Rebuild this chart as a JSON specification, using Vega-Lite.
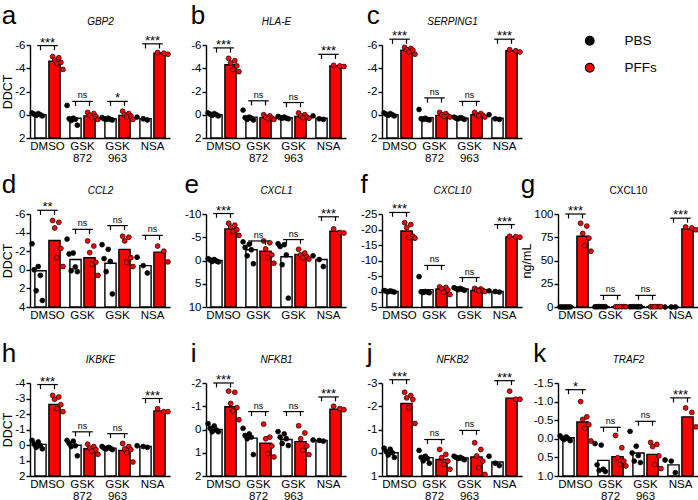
{
"$schema":"https://vega.github.io/schema/vega-lite/v6.json",
"padding":{"left":1,"top":3,"right":0,"bottom":0},
"datasets":{
"d":[
{"p":"a","g":"DMSO","c":"PBS","m":0,"v":[-0.15,-0.1,-0.05,0,0.05,0.1],"k":["P1","P4","P2","P5","P3","P6"]},
{"p":"a","g":"DMSO","c":"PFFs","m":-4.6,"v":[-5.0,-4.9,-4.7,-4.5,-4.4,-3.9],"k":["F1","F4","F2","F5","F3","F6"]},
{"p":"a","g":"GSK 872","c":"PBS","m":0.3,"v":[-0.8,0.3,0.35,0.4,0.5,0.9],"k":["P1","P4","P2","P5","P3","P6"]},
{"p":"a","g":"GSK 872","c":"PFFs","m":0.1,"v":[-0.2,-0.1,0.05,0.15,0.25,0.4],"k":["F1","F4","F2","F5","F3","F6"]},
{"p":"a","g":"GSK 963","c":"PBS","m":0.35,"v":[0.25,0.3,0.35,0.4,0.4,0.45],"k":["P1","P4","P2","P5","P3","P6"]},
{"p":"a","g":"GSK 963","c":"PFFs","m":0.05,"v":[-0.3,-0.1,0,0.1,0.2,0.4],"k":["F1","F4","F2","F5","F3","F6"]},
{"p":"a","g":"NSA","c":"PBS","m":0.35,"v":[0.2,0.35,0.45],"k":["P1","P4","P6"]},
{"p":"a","g":"NSA","c":"PFFs","m":-5.3,"v":[-5.35,-5.3,-5.2],"k":["F1","F4","F6"]},
{"p":"b","g":"DMSO","c":"PBS","m":0,"v":[-0.15,-0.1,-0.05,0,0.05,0.1],"k":["P1","P4","P2","P5","P3","P6"]},
{"p":"b","g":"DMSO","c":"PFFs","m":-4.3,"v":[-4.85,-4.65,-4.45,-4.2,-3.9,-3.7],"k":["F1","F4","F2","F5","F3","F6"]},
{"p":"b","g":"GSK 872","c":"PBS","m":0.2,"v":[-0.4,0.2,0.25,0.3,0.4,0.45],"k":["P1","P4","P2","P5","P3","P6"]},
{"p":"b","g":"GSK 872","c":"PFFs","m":0.25,"v":[0,0.1,0.2,0.3,0.35,0.4],"k":["F1","F4","F2","F5","F3","F6"]},
{"p":"b","g":"GSK 963","c":"PBS","m":0.25,"v":[0.15,0.2,0.25,0.3,0.3,0.35],"k":["P1","P4","P2","P5","P3","P6"]},
{"p":"b","g":"GSK 963","c":"PFFs","m":0.15,"v":[-0.15,0,0.1,0.2,0.25,0.3],"k":["F1","F4","F2","F5","F3","F6"]},
{"p":"b","g":"NSA","c":"PBS","m":0.3,"v":[0.1,0.35,0.4],"k":["P1","P4","P6"]},
{"p":"b","g":"NSA","c":"PFFs","m":-4.2,"v":[-4.25,-4.2,-4.15],"k":["F1","F4","F6"]},
{"p":"c","g":"DMSO","c":"PBS","m":0,"v":[-0.15,-0.1,-0.05,0,0.05,0.1],"k":["P1","P4","P2","P5","P3","P6"]},
{"p":"c","g":"DMSO","c":"PFFs","m":-5.55,"v":[-5.8,-5.7,-5.6,-5.55,-5.4,-5.2],"k":["F1","F4","F2","F5","F3","F6"]},
{"p":"c","g":"GSK 872","c":"PBS","m":0.25,"v":[-0.45,0.3,0.35,0.4,0.4,0.45],"k":["P1","P4","P2","P5","P3","P6"]},
{"p":"c","g":"GSK 872","c":"PFFs","m":0.05,"v":[-0.2,-0.1,0,0.1,0.15,0.2],"k":["F1","F4","F2","F5","F3","F6"]},
{"p":"c","g":"GSK 963","c":"PBS","m":0.3,"v":[0.2,0.25,0.3,0.3,0.35,0.4],"k":["P1","P4","P2","P5","P3","P6"]},
{"p":"c","g":"GSK 963","c":"PFFs","m":0,"v":[-0.2,-0.1,0,0.05,0.1,0.2],"k":["F1","F4","F2","F5","F3","F6"]},
{"p":"c","g":"NSA","c":"PBS","m":0.3,"v":[0,0.35,0.4],"k":["P1","P4","P6"]},
{"p":"c","g":"NSA","c":"PFFs","m":-5.5,"v":[-5.6,-5.5,-5.4],"k":["F1","F4","F6"]},
{"p":"d","g":"DMSO","c":"PBS","m":0.1,"v":[-2.8,-0.35,0,0.6,2.25,3.3],"k":["P1","P4","P2","P5","P3","P6"]},
{"p":"d","g":"DMSO","c":"PFFs","m":-3.15,"v":[-5.3,-5.1,-4.5,-2.3,-1.3,-0.35],"k":["F1","F4","F2","F5","F3","F6"]},
{"p":"d","g":"GSK 872","c":"PBS","m":-1.1,"v":[-3.3,-1.8,-1.7,-0.3,0.1,0.2],"k":["P1","P4","P2","P5","P3","P6"]},
{"p":"d","g":"GSK 872","c":"PFFs","m":-1.3,"v":[-3.1,-2.55,-1.85,-0.8,-0.6,0.6],"k":["F1","F4","F2","F5","F3","F6"]},
{"p":"d","g":"GSK 963","c":"PBS","m":-0.7,"v":[-2.7,-2.2,-1.2,-0.9,0.2,2.6],"k":["P1","P4","P2","P5","P3","P6"]},
{"p":"d","g":"GSK 963","c":"PFFs","m":-2.2,"v":[-3.6,-3.5,-3.1,-1.3,-0.8,-0.35],"k":["F1","F4","F2","F5","F3","F6"]},
{"p":"d","g":"NSA","c":"PBS","m":-0.45,"v":[-1.35,-0.45,0.35],"k":["P1","P4","P6"]},
{"p":"d","g":"NSA","c":"PFFs","m":-1.9,"v":[-2.55,-2.0,-0.85],"k":["F1","F4","F6"]},
{"p":"e","g":"DMSO","c":"PBS","m":0,"v":[-0.4,-0.2,-0.1,0.1,0.2,0.3],"k":["P1","P4","P2","P5","P3","P6"]},
{"p":"e","g":"DMSO","c":"PFFs","m":-6.8,"v":[-8.0,-7.6,-7.2,-6.6,-6.2,-5.4],"k":["F1","F4","F2","F5","F3","F6"]},
{"p":"e","g":"GSK 872","c":"PBS","m":-2.3,"v":[-4.0,-3.5,-2.8,-2.3,-1.0,0.7],"k":["P1","P4","P2","P5","P3","P6"]},
{"p":"e","g":"GSK 872","c":"PFFs","m":-2.0,"v":[-4.2,-3.8,-2.5,-1.2,-0.6,0.6],"k":["F1","F4","F2","F5","F3","F6"]},
{"p":"e","g":"GSK 963","c":"PBS","m":-0.8,"v":[-3.6,-3.4,-3.0,-1.2,0.9,8.1],"k":["P1","P4","P2","P5","P3","P6"]},
{"p":"e","g":"GSK 963","c":"PFFs","m":-1.3,"v":[-2.4,-1.6,-1.2,-0.8,-0.6,-0.3],"k":["F1","F4","F2","F5","F3","F6"]},
{"p":"e","g":"NSA","c":"PBS","m":-0.2,"v":[-1.0,-0.2,1.3],"k":["P1","P4","P6"]},
{"p":"e","g":"NSA","c":"PFFs","m":-6.3,"v":[-6.8,-6.0,-5.9],"k":["F1","F4","F6"]},
{"p":"f","g":"DMSO","c":"PBS","m":0,"v":[-0.3,-0.2,-0.1,0,0.1,0.2],"k":["P1","P4","P2","P5","P3","P6"]},
{"p":"f","g":"DMSO","c":"PFFs","m":-19.5,"v":[-22.2,-21.6,-20.6,-17.8,-17.4,-17.2],"k":["F1","F4","F2","F5","F3","F6"]},
{"p":"f","g":"GSK 872","c":"PBS","m":-0.6,"v":[-4.8,0,0.1,0.2,0.3,0.4],"k":["P1","P4","P2","P5","P3","P6"]},
{"p":"f","g":"GSK 872","c":"PFFs","m":-0.8,"v":[-1.5,-1.3,-0.9,-0.5,0.3,1.0],"k":["F1","F4","F2","F5","F3","F6"]},
{"p":"f","g":"GSK 963","c":"PBS","m":-0.8,"v":[-1.2,-1.0,-0.9,-0.7,-0.6,-0.4],"k":["P1","P4","P2","P5","P3","P6"]},
{"p":"f","g":"GSK 963","c":"PFFs","m":-0.3,"v":[-1.0,-0.8,-0.5,-0.3,-0.2,0],"k":["F1","F4","F2","F5","F3","F6"]},
{"p":"f","g":"NSA","c":"PBS","m":0,"v":[-0.2,0,0.2],"k":["P1","P4","P6"]},
{"p":"f","g":"NSA","c":"PFFs","m":-17.6,"v":[-17.8,-17.7,-17.5],"k":["F1","F4","F6"]},
{"p":"g","g":"DMSO","c":"PBS","m":0,"v":[0,0,0,0,0,0],"k":["P1","P4","P2","P5","P3","P6"]},
{"p":"g","g":"DMSO","c":"PFFs","m":76,"v":[90,87,79,74,66,60],"k":["F1","F4","F2","F5","F3","F6"]},
{"p":"g","g":"GSK 872","c":"PBS","m":0.3,"v":[0.2,0.3,0.3,0.3,0.4,0.3],"k":["P1","P4","P2","P5","P3","P6"]},
{"p":"g","g":"GSK 872","c":"PFFs","m":0.3,"v":[0.2,0.3,0.3,0.4,0.4,0.3],"k":["F1","F4","F2","F5","F3","F6"]},
{"p":"g","g":"GSK 963","c":"PBS","m":0.3,"v":[0.2,0.3,0.3,0.3,0.4,0.3],"k":["P1","P4","P2","P5","P3","P6"]},
{"p":"g","g":"GSK 963","c":"PFFs","m":0.3,"v":[0.2,0.3,0.3,0.4,0.4,0.3],"k":["F1","F4","F2","F5","F3","F6"]},
{"p":"g","g":"NSA","c":"PBS","m":0,"v":[0,0,0],"k":["P1","P4","P6"]},
{"p":"g","g":"NSA","c":"PFFs","m":84,"v":[86,85,83],"k":["F1","F4","F6"]},
{"p":"h","g":"DMSO","c":"PBS","m":-0.04,"v":[-0.3,-0.2,-0.05,0.05,0.15,0.25],"k":["P1","P4","P2","P5","P3","P6"]},
{"p":"h","g":"DMSO","c":"PFFs","m":-2.62,"v":[-3.2,-3.1,-2.95,-2.6,-2.35,-2.15],"k":["F1","F4","F2","F5","F3","F6"]},
{"p":"h","g":"GSK 872","c":"PBS","m":0.02,"v":[-0.3,-0.25,-0.1,0.05,0.1,0.7],"k":["P1","P4","P2","P5","P3","P6"]},
{"p":"h","g":"GSK 872","c":"PFFs","m":0.24,"v":[-0.05,0.1,0.2,0.3,0.4,0.6],"k":["F1","F4","F2","F5","F3","F6"]},
{"p":"h","g":"GSK 963","c":"PBS","m":0.2,"v":[0.1,0.15,0.2,0.2,0.25,0.3],"k":["P1","P4","P2","P5","P3","P6"]},
{"p":"h","g":"GSK 963","c":"PFFs","m":0.35,"v":[-0.1,0.1,0.25,0.3,0.5,1.1],"k":["F1","F4","F2","F5","F3","F6"]},
{"p":"h","g":"NSA","c":"PBS","m":0.1,"v":[0.05,0.1,0.15],"k":["P1","P4","P6"]},
{"p":"h","g":"NSA","c":"PFFs","m":-2.2,"v":[-2.35,-2.15,-2.15],"k":["F1","F4","F6"]},
{"p":"i","g":"DMSO","c":"PBS","m":0,"v":[-0.25,-0.15,-0.05,0.02,0.1,0.1],"k":["P1","P4","P2","P5","P3","P6"]},
{"p":"i","g":"DMSO","c":"PFFs","m":-0.98,"v":[-1.65,-1.6,-1.12,-0.94,-0.8,-0.42],"k":["F1","F4","F2","F5","F3","F6"]},
{"p":"i","g":"GSK 872","c":"PBS","m":0.37,"v":[-0.05,0.19,0.26,0.33,0.4,1.08],"k":["P1","P4","P2","P5","P3","P6"]},
{"p":"i","g":"GSK 872","c":"PFFs","m":0.59,"v":[-0.23,0.33,0.4,0.71,1.04,1.18],"k":["F1","F4","F2","F5","F3","F6"]},
{"p":"i","g":"GSK 963","c":"PBS","m":0.43,"v":[0.09,0.19,0.33,0.4,0.6,0.69],"k":["P1","P4","P2","P5","P3","P6"]},
{"p":"i","g":"GSK 963","c":"PFFs","m":0.52,"v":[-0.16,0.15,0.4,0.71,0.9,1.08],"k":["F1","F4","F2","F5","F3","F6"]},
{"p":"i","g":"NSA","c":"PBS","m":0.47,"v":[0.45,0.47,0.5],"k":["P1","P4","P6"]},
{"p":"i","g":"NSA","c":"PFFs","m":-0.87,"v":[-1.0,-0.9,-0.85],"k":["F1","F4","F6"]},
{"p":"j","g":"DMSO","c":"PBS","m":0,"v":[-0.2,-0.15,-0.05,0,0.1,0.2],"k":["P1","P4","P2","P5","P3","P6"]},
{"p":"j","g":"DMSO","c":"PFFs","m":-2.12,"v":[-2.6,-2.46,-2.36,-2.29,-1.93,-1.26],"k":["F1","F4","F2","F5","F3","F6"]},
{"p":"j","g":"GSK 872","c":"PBS","m":0.21,"v":[-0.1,0.15,0.2,0.25,0.35,0.45],"k":["P1","P4","P2","P5","P3","P6"]},
{"p":"j","g":"GSK 872","c":"PFFs","m":0.29,"v":[-0.14,0.07,0.21,0.36,0.5,0.71],"k":["F1","F4","F2","F5","F3","F6"]},
{"p":"j","g":"GSK 963","c":"PBS","m":0.22,"v":[0.15,0.2,0.2,0.25,0.25,0.3],"k":["P1","P4","P2","P5","P3","P6"]},
{"p":"j","g":"GSK 963","c":"PFFs","m":0.18,"v":[-0.43,-0.14,0.14,0.36,0.64,0.93],"k":["F1","F4","F2","F5","F3","F6"]},
{"p":"j","g":"NSA","c":"PBS","m":0.4,"v":[0.15,0.45,0.55],"k":["P1","P4","P6"]},
{"p":"j","g":"NSA","c":"PFFs","m":-2.35,"v":[-2.65,-2.3,-2.3],"k":["F1","F4","F6"]},
{"p":"k","g":"DMSO","c":"PBS","m":-0.03,"v":[-0.08,-0.05,-0.02,0,0.02,0.05],"k":["P1","P4","P2","P5","P3","P6"]},
{"p":"k","g":"DMSO","c":"PFFs","m":-0.45,"v":[-1.0,-0.59,-0.52,-0.38,-0.28,0.06],"k":["F1","F4","F2","F5","F3","F6"]},
{"p":"k","g":"GSK 872","c":"PBS","m":0.58,"v":[0.13,0.17,0.7,0.82,0.85,0.88],"k":["P1","P4","P2","P5","P3","P6"]},
{"p":"k","g":"GSK 872","c":"PFFs","m":0.48,"v":[-0.09,0.24,0.51,0.6,0.69,0.73],"k":["F1","F4","F2","F5","F3","F6"]},
{"p":"k","g":"GSK 963","c":"PBS","m":0.38,"v":[-0.2,0.2,0.38,0.45,0.6,0.64],"k":["P1","P4","P2","P5","P3","P6"]},
{"p":"k","g":"GSK 963","c":"PFFs","m":0.42,"v":[0.1,0.15,0.21,0.46,0.69,0.8],"k":["F1","F4","F2","F5","F3","F6"]},
{"p":"k","g":"NSA","c":"PBS","m":0.7,"v":[0.57,0.6,0.91],"k":["P1","P4","P6"]},
{"p":"k","g":"NSA","c":"PFFs","m":-0.59,"v":[-0.83,-0.71,-0.32],"k":["F1","F4","F6"]}
],
"b":[
{"p":"a","g":"DMSO","t":-5.95,"b":-5.55,"s":"***","c":["PBS","PFFs"]},
{"p":"a","g":"GSK 872","t":-1.15,"b":-0.75,"s":"ns","c":["PBS","PFFs"]},
{"p":"a","g":"GSK 963","t":-1.15,"b":-0.75,"s":"*","c":["PBS","PFFs"]},
{"p":"a","g":"NSA","t":-6.1,"b":-5.7,"s":"***","c":["PBS","PFFs"]},
{"p":"b","g":"DMSO","t":-5.75,"b":-5.35,"s":"***","c":["PBS","PFFs"]},
{"p":"b","g":"GSK 872","t":-1.2,"b":-0.8,"s":"ns","c":["PBS","PFFs"]},
{"p":"b","g":"GSK 963","t":-1.05,"b":-0.65,"s":"ns","c":["PBS","PFFs"]},
{"p":"b","g":"NSA","t":-5.2,"b":-4.8,"s":"***","c":["PBS","PFFs"]},
{"p":"c","g":"DMSO","t":-6.5,"b":-6.1,"s":"***","c":["PBS","PFFs"]},
{"p":"c","g":"GSK 872","t":-1.45,"b":-1.05,"s":"ns","c":["PBS","PFFs"]},
{"p":"c","g":"GSK 963","t":-1.15,"b":-0.75,"s":"ns","c":["PBS","PFFs"]},
{"p":"c","g":"NSA","t":-6.5,"b":-6.1,"s":"***","c":["PBS","PFFs"]},
{"p":"d","g":"DMSO","t":-6.4,"b":-5.9,"s":"**","c":["PBS","PFFs"]},
{"p":"d","g":"GSK 872","t":-4.35,"b":-3.85,"s":"ns","c":["PBS","PFFs"]},
{"p":"d","g":"GSK 963","t":-4.75,"b":-4.25,"s":"ns","c":["PBS","PFFs"]},
{"p":"d","g":"NSA","t":-3.7,"b":-3.2,"s":"ns","c":["PBS","PFFs"]},
{"p":"e","g":"DMSO","t":-10.1,"b":-9.2,"s":"***","c":["PBS","PFFs"]},
{"p":"e","g":"GSK 872","t":-4.2,"b":-3.3,"s":"ns","c":["PBS","PFFs"]},
{"p":"e","g":"GSK 963","t":-4.5,"b":-3.6,"s":"ns","c":["PBS","PFFs"]},
{"p":"e","g":"NSA","t":-9.4,"b":-8.5,"s":"***","c":["PBS","PFFs"]},
{"p":"f","g":"DMSO","t":-25.5,"b":-24.1,"s":"***","c":["PBS","PFFs"]},
{"p":"f","g":"GSK 872","t":-8.4,"b":-7.0,"s":"ns","c":["PBS","PFFs"]},
{"p":"f","g":"GSK 963","t":-4.5,"b":-3.1,"s":"ns","c":["PBS","PFFs"]},
{"p":"f","g":"NSA","t":-21.6,"b":-20.2,"s":"***","c":["PBS","PFFs"]},
{"p":"g","g":"DMSO","t":100,"b":95.2,"s":"***","c":["PBS","PFFs"]},
{"p":"g","g":"GSK 872","t":12.5,"b":7.7,"s":"ns","c":["PBS","PFFs"]},
{"p":"g","g":"GSK 963","t":12.5,"b":7.7,"s":"ns","c":["PBS","PFFs"]},
{"p":"g","g":"NSA","t":95.5,"b":90.7,"s":"***","c":["PBS","PFFs"]},
{"p":"h","g":"DMSO","t":-3.9,"b":-3.6,"s":"***","c":["PBS","PFFs"]},
{"p":"h","g":"GSK 872","t":-0.85,"b":-0.56,"s":"ns","c":["PBS","PFFs"]},
{"p":"h","g":"GSK 963","t":-0.73,"b":-0.44,"s":"ns","c":["PBS","PFFs"]},
{"p":"h","g":"NSA","t":-3.0,"b":-2.7,"s":"***","c":["PBS","PFFs"]},
{"p":"i","g":"DMSO","t":-2.0,"b":-1.81,"s":"***","c":["PBS","PFFs"]},
{"p":"i","g":"GSK 872","t":-0.77,"b":-0.58,"s":"ns","c":["PBS","PFFs"]},
{"p":"i","g":"GSK 963","t":-0.77,"b":-0.58,"s":"ns","c":["PBS","PFFs"]},
{"p":"i","g":"NSA","t":-1.4,"b":-1.21,"s":"***","c":["PBS","PFFs"]},
{"p":"j","g":"DMSO","t":-3.14,"b":-2.95,"s":"***","c":["PBS","PFFs"]},
{"p":"j","g":"GSK 872","t":-0.57,"b":-0.38,"s":"ns","c":["PBS","PFFs"]},
{"p":"j","g":"GSK 963","t":-0.96,"b":-0.77,"s":"ns","c":["PBS","PFFs"]},
{"p":"j","g":"NSA","t":-3.1,"b":-2.91,"s":"***","c":["PBS","PFFs"]},
{"p":"k","g":"DMSO","t":-1.32,"b":-1.2,"s":"*","c":["PBS","PFFs"]},
{"p":"k","g":"GSK 872","t":-0.31,"b":-0.19,"s":"ns","c":["PBS","PFFs"]},
{"p":"k","g":"GSK 963","t":-0.47,"b":-0.35,"s":"ns","c":["PBS","PFFs"]},
{"p":"k","g":"NSA","t":-1.1,"b":-0.98,"s":"***","c":["PBS","PFFs"]}
]
},
"columns":4,
"bounds":"flush",
"spacing":{"row":76,"column":36},
"resolve":{"scale":{"fill":"independent","color":"independent","xOffset":"independent"}},
"concat":[
{"width":140,"height":93,"title":"a",
"layer":[
{"data":{"name":"d"},"transform":[{"filter":"datum.p=='a'"}],"mark":{"type":"bar","stroke":"black","strokeWidth":1.4},
"encoding":{"x":{"field":"g","type":"nominal","scale":{"domain":["DMSO","GSK 872","GSK 963","NSA"],"paddingInner":0,"paddingOuter":0},"axis":{"title":null,"labelExpr":"split(datum.value,' ')"}},
"xOffset":{"field":"c","type":"nominal","scale":{"domain":["PBS","PFFs"],"paddingInner":0.2,"paddingOuter":0.35}},
"y":{"field":"m","type":"quantitative","scale":{"domain":[-6,2],"reverse":true,"nice":false,"zero":false},"axis":{"title":"DDCT","values":[-6,-4,-2,0,2],"format":"d","tickCount":20,"labelExpr":"replace(datum.label,'\u2212','-')"}},
"y2":{"datum":2},
"color":{"field":"c","type":"nominal","scale":{"domain":["PBS","PFFs"],"range":["white","#ff0000"]},"legend":null}}},
{"mark":{"type":"rule","color":"black","strokeWidth":1.6},"encoding":{"y":{"datum":2,"type":"quantitative"}}},
{"mark":{"type":"rule","color":"black","strokeWidth":1.6},"encoding":{"x":{"datum":"DMSO","type":"nominal","bandPosition":0,"axis":null}}},
{"data":{"name":"d"},"transform":[{"filter":"datum.p=='a'"},{"flatten":["v","k"]}],"mark":{"type":"circle","size":24,"stroke":"black","strokeWidth":0.7,"opacity":1},
"encoding":{"x":{"field":"g","type":"nominal","axis":null},"xOffset":{"field":"k","type":"nominal","scale":{"type":"point","domain":["P1","P2","P3","P4","P5","P6","q1","q2","q3","q4","F1","F2","F3","F4","F5","F6"],"padding":5}},
"y":{"field":"v","type":"quantitative"},
"fill":{"field":"c","type":"nominal","scale":{"domain":["PBS","PFFs"],"range":["black","#ff0000"]},"legend":null}}},
{"data":{"name":"b"},"transform":[{"filter":"datum.p=='a'"},{"flatten":["c"]}],"mark":{"type":"line","color":"black","strokeWidth":1.2},
"encoding":{"x":{"field":"g","type":"nominal","axis":{"orient":"top","title":"GBP2"}},
"xOffset":{"field":"c","type":"nominal","scale":{"domain":["PBS","PFFs"],"paddingInner":0.2,"paddingOuter":0.35}},
"y":{"field":"t","type":"quantitative"},"detail":{"field":"g"}}},
{"data":{"name":"b"},"transform":[{"filter":"datum.p=='a'"},{"flatten":["c"]}],"mark":{"type":"rule","color":"black","strokeWidth":1.2},
"encoding":{"x":{"field":"g","type":"nominal","axis":null},"xOffset":{"field":"c","type":"nominal","scale":{"domain":["PBS","PFFs"],"paddingInner":0.2,"paddingOuter":0.35}},"y":{"field":"t","type":"quantitative"},"y2":{"field":"b"}}},
{"data":{"name":"b"},"transform":[{"filter":"datum.p=='a' && datum.s!='ns'"}],"mark":{"type":"text","fontSize":13,"dy":1,"baseline":"alphabetic"},
"encoding":{"x":{"field":"g","type":"nominal","axis":null},"y":{"field":"t","type":"quantitative"},"text":{"field":"s"}}},
{"data":{"name":"b"},"transform":[{"filter":"datum.p=='a' && datum.s=='ns'"}],"mark":{"type":"text","fontSize":9,"dy":-3,"baseline":"alphabetic"},
"encoding":{"x":{"field":"g","type":"nominal","axis":null},"y":{"field":"t","type":"quantitative"},"text":{"field":"s"}}}
],
"resolve":{"scale":{"xOffset":"independent"},"axis":{"x":"independent"}}},

{"width":140,"height":93,"title":"b",
"layer":[
{"data":{"name":"d"},"transform":[{"filter":"datum.p=='b'"}],"mark":{"type":"bar","stroke":"black","strokeWidth":1.4},
"encoding":{"x":{"field":"g","type":"nominal","scale":{"domain":["DMSO","GSK 872","GSK 963","NSA"],"paddingInner":0,"paddingOuter":0},"axis":{"title":null,"labelExpr":"split(datum.value,' ')"}},
"xOffset":{"field":"c","type":"nominal","scale":{"domain":["PBS","PFFs"],"paddingInner":0.2,"paddingOuter":0.35}},
"y":{"field":"m","type":"quantitative","scale":{"domain":[-6,2],"reverse":true,"nice":false,"zero":false},"axis":{"title":null,"values":[-6,-4,-2,0,2],"format":"d","tickCount":20,"labelExpr":"replace(datum.label,'\u2212','-')"}},
"y2":{"datum":2},
"color":{"field":"c","type":"nominal","scale":{"domain":["PBS","PFFs"],"range":["white","#ff0000"]},"legend":null}}},
{"mark":{"type":"rule","color":"black","strokeWidth":1.6},"encoding":{"y":{"datum":2,"type":"quantitative"}}},
{"mark":{"type":"rule","color":"black","strokeWidth":1.6},"encoding":{"x":{"datum":"DMSO","type":"nominal","bandPosition":0,"axis":null}}},
{"data":{"name":"d"},"transform":[{"filter":"datum.p=='b'"},{"flatten":["v","k"]}],"mark":{"type":"circle","size":24,"stroke":"black","strokeWidth":0.7,"opacity":1},
"encoding":{"x":{"field":"g","type":"nominal","axis":null},"xOffset":{"field":"k","type":"nominal","scale":{"type":"point","domain":["P1","P2","P3","P4","P5","P6","q1","q2","q3","q4","F1","F2","F3","F4","F5","F6"],"padding":5}},
"y":{"field":"v","type":"quantitative"},
"fill":{"field":"c","type":"nominal","scale":{"domain":["PBS","PFFs"],"range":["black","#ff0000"]},"legend":null}}},
{"data":{"name":"b"},"transform":[{"filter":"datum.p=='b'"},{"flatten":["c"]}],"mark":{"type":"line","color":"black","strokeWidth":1.2},
"encoding":{"x":{"field":"g","type":"nominal","axis":{"orient":"top","title":"HLA-E"}},
"xOffset":{"field":"c","type":"nominal","scale":{"domain":["PBS","PFFs"],"paddingInner":0.2,"paddingOuter":0.35}},
"y":{"field":"t","type":"quantitative"},"detail":{"field":"g"}}},
{"data":{"name":"b"},"transform":[{"filter":"datum.p=='b'"},{"flatten":["c"]}],"mark":{"type":"rule","color":"black","strokeWidth":1.2},
"encoding":{"x":{"field":"g","type":"nominal","axis":null},"xOffset":{"field":"c","type":"nominal","scale":{"domain":["PBS","PFFs"],"paddingInner":0.2,"paddingOuter":0.35}},"y":{"field":"t","type":"quantitative"},"y2":{"field":"b"}}},
{"data":{"name":"b"},"transform":[{"filter":"datum.p=='b' && datum.s!='ns'"}],"mark":{"type":"text","fontSize":13,"dy":1,"baseline":"alphabetic"},
"encoding":{"x":{"field":"g","type":"nominal","axis":null},"y":{"field":"t","type":"quantitative"},"text":{"field":"s"}}},
{"data":{"name":"b"},"transform":[{"filter":"datum.p=='b' && datum.s=='ns'"}],"mark":{"type":"text","fontSize":9,"dy":-3,"baseline":"alphabetic"},
"encoding":{"x":{"field":"g","type":"nominal","axis":null},"y":{"field":"t","type":"quantitative"},"text":{"field":"s"}}}
],
"resolve":{"scale":{"xOffset":"independent"},"axis":{"x":"independent"}}},

{"width":140,"height":93,"title":"c",
"layer":[
{"data":{"name":"d"},"transform":[{"filter":"datum.p=='c'"}],"mark":{"type":"bar","stroke":"black","strokeWidth":1.4},
"encoding":{"x":{"field":"g","type":"nominal","scale":{"domain":["DMSO","GSK 872","GSK 963","NSA"],"paddingInner":0,"paddingOuter":0},"axis":{"title":null,"labelExpr":"split(datum.value,' ')"}},
"xOffset":{"field":"c","type":"nominal","scale":{"domain":["PBS","PFFs"],"paddingInner":0.2,"paddingOuter":0.35}},
"y":{"field":"m","type":"quantitative","scale":{"domain":[-6,2],"reverse":true,"nice":false,"zero":false},"axis":{"title":null,"values":[-6,-4,-2,0,2],"format":"d","tickCount":20,"labelExpr":"replace(datum.label,'\u2212','-')"}},
"y2":{"datum":2},
"color":{"field":"c","type":"nominal","scale":{"domain":["PBS","PFFs"],"range":["white","#ff0000"]},"legend":null}}},
{"mark":{"type":"rule","color":"black","strokeWidth":1.6},"encoding":{"y":{"datum":2,"type":"quantitative"}}},
{"mark":{"type":"rule","color":"black","strokeWidth":1.6},"encoding":{"x":{"datum":"DMSO","type":"nominal","bandPosition":0,"axis":null}}},
{"data":{"name":"d"},"transform":[{"filter":"datum.p=='c'"},{"flatten":["v","k"]}],"mark":{"type":"circle","size":24,"stroke":"black","strokeWidth":0.7,"opacity":1},
"encoding":{"x":{"field":"g","type":"nominal","axis":null},"xOffset":{"field":"k","type":"nominal","scale":{"type":"point","domain":["P1","P2","P3","P4","P5","P6","q1","q2","q3","q4","F1","F2","F3","F4","F5","F6"],"padding":5}},
"y":{"field":"v","type":"quantitative"},
"fill":{"field":"c","type":"nominal","scale":{"domain":["PBS","PFFs"],"range":["black","#ff0000"]},"legend":null}}},
{"data":{"name":"b"},"transform":[{"filter":"datum.p=='c'"},{"flatten":["c"]}],"mark":{"type":"line","color":"black","strokeWidth":1.2},
"encoding":{"x":{"field":"g","type":"nominal","axis":{"orient":"top","title":"SERPING1"}},
"xOffset":{"field":"c","type":"nominal","scale":{"domain":["PBS","PFFs"],"paddingInner":0.2,"paddingOuter":0.35}},
"y":{"field":"t","type":"quantitative"},"detail":{"field":"g"}}},
{"data":{"name":"b"},"transform":[{"filter":"datum.p=='c'"},{"flatten":["c"]}],"mark":{"type":"rule","color":"black","strokeWidth":1.2},
"encoding":{"x":{"field":"g","type":"nominal","axis":null},"xOffset":{"field":"c","type":"nominal","scale":{"domain":["PBS","PFFs"],"paddingInner":0.2,"paddingOuter":0.35}},"y":{"field":"t","type":"quantitative"},"y2":{"field":"b"}}},
{"data":{"name":"b"},"transform":[{"filter":"datum.p=='c' && datum.s!='ns'"}],"mark":{"type":"text","fontSize":13,"dy":1,"baseline":"alphabetic"},
"encoding":{"x":{"field":"g","type":"nominal","axis":null},"y":{"field":"t","type":"quantitative"},"text":{"field":"s"}}},
{"data":{"name":"b"},"transform":[{"filter":"datum.p=='c' && datum.s=='ns'"}],"mark":{"type":"text","fontSize":9,"dy":-3,"baseline":"alphabetic"},
"encoding":{"x":{"field":"g","type":"nominal","axis":null},"y":{"field":"t","type":"quantitative"},"text":{"field":"s"}}}
],
"resolve":{"scale":{"xOffset":"independent"},"axis":{"x":"independent"}}},

{"width":140,"height":93,"data":{"values":[]},"mark":{"type":"circle","stroke":"black","strokeWidth":1.2,"opacity":1},
"encoding":{"fill":{"field":"c","type":"nominal","scale":{"domain":["PBS","PFFs"],"range":["black","#ff0000"]},
"legend":{"title":null,"orient":"none","legendX":25,"legendY":-11,"labelFontSize":13.5,"symbolSize":75,"symbolStrokeColor":"black","symbolStrokeWidth":1.2,"rowPadding":12,"labelOffset":28,"symbolType":"circle","labelColor":"black","symbolOpacity":1}}}},

{"width":140,"height":93,"title":"d",
"layer":[
{"data":{"name":"d"},"transform":[{"filter":"datum.p=='d'"}],"mark":{"type":"bar","stroke":"black","strokeWidth":1.4},
"encoding":{"x":{"field":"g","type":"nominal","scale":{"domain":["DMSO","GSK 872","GSK 963","NSA"],"paddingInner":0,"paddingOuter":0},"axis":{"title":null,"labelExpr":"split(datum.value,' ')[0]"}},
"xOffset":{"field":"c","type":"nominal","scale":{"domain":["PBS","PFFs"],"paddingInner":0.2,"paddingOuter":0.35}},
"y":{"field":"m","type":"quantitative","scale":{"domain":[-6,4],"reverse":true,"nice":false,"zero":false},"axis":{"title":"DDCT","values":[-6,-4,-2,0,2,4],"format":"d","tickCount":20,"labelExpr":"replace(datum.label,'\u2212','-')"}},
"y2":{"datum":4},
"color":{"field":"c","type":"nominal","scale":{"domain":["PBS","PFFs"],"range":["white","#ff0000"]},"legend":null}}},
{"mark":{"type":"rule","color":"black","strokeWidth":1.6},"encoding":{"y":{"datum":4,"type":"quantitative"}}},
{"mark":{"type":"rule","color":"black","strokeWidth":1.6},"encoding":{"x":{"datum":"DMSO","type":"nominal","bandPosition":0,"axis":null}}},
{"data":{"name":"d"},"transform":[{"filter":"datum.p=='d'"},{"flatten":["v","k"]}],"mark":{"type":"circle","size":24,"stroke":"black","strokeWidth":0.7,"opacity":1},
"encoding":{"x":{"field":"g","type":"nominal","axis":null},"xOffset":{"field":"k","type":"nominal","scale":{"type":"point","domain":["P1","P2","P3","P4","P5","P6","q1","q2","q3","q4","F1","F2","F3","F4","F5","F6"],"padding":5}},
"y":{"field":"v","type":"quantitative"},
"fill":{"field":"c","type":"nominal","scale":{"domain":["PBS","PFFs"],"range":["black","#ff0000"]},"legend":null}}},
{"data":{"name":"b"},"transform":[{"filter":"datum.p=='d'"},{"flatten":["c"]}],"mark":{"type":"line","color":"black","strokeWidth":1.2},
"encoding":{"x":{"field":"g","type":"nominal","axis":{"orient":"top","title":"CCL2"}},
"xOffset":{"field":"c","type":"nominal","scale":{"domain":["PBS","PFFs"],"paddingInner":0.2,"paddingOuter":0.35}},
"y":{"field":"t","type":"quantitative"},"detail":{"field":"g"}}},
{"data":{"name":"b"},"transform":[{"filter":"datum.p=='d'"},{"flatten":["c"]}],"mark":{"type":"rule","color":"black","strokeWidth":1.2},
"encoding":{"x":{"field":"g","type":"nominal","axis":null},"xOffset":{"field":"c","type":"nominal","scale":{"domain":["PBS","PFFs"],"paddingInner":0.2,"paddingOuter":0.35}},"y":{"field":"t","type":"quantitative"},"y2":{"field":"b"}}},
{"data":{"name":"b"},"transform":[{"filter":"datum.p=='d' && datum.s!='ns'"}],"mark":{"type":"text","fontSize":13,"dy":1,"baseline":"alphabetic"},
"encoding":{"x":{"field":"g","type":"nominal","axis":null},"y":{"field":"t","type":"quantitative"},"text":{"field":"s"}}},
{"data":{"name":"b"},"transform":[{"filter":"datum.p=='d' && datum.s=='ns'"}],"mark":{"type":"text","fontSize":9,"dy":-3,"baseline":"alphabetic"},
"encoding":{"x":{"field":"g","type":"nominal","axis":null},"y":{"field":"t","type":"quantitative"},"text":{"field":"s"}}}
],
"resolve":{"scale":{"xOffset":"independent"},"axis":{"x":"independent"}}},

{"width":140,"height":93,"title":"e",
"layer":[
{"data":{"name":"d"},"transform":[{"filter":"datum.p=='e'"}],"mark":{"type":"bar","stroke":"black","strokeWidth":1.4},
"encoding":{"x":{"field":"g","type":"nominal","scale":{"domain":["DMSO","GSK 872","GSK 963","NSA"],"paddingInner":0,"paddingOuter":0},"axis":{"title":null,"labelExpr":"split(datum.value,' ')[0]"}},
"xOffset":{"field":"c","type":"nominal","scale":{"domain":["PBS","PFFs"],"paddingInner":0.2,"paddingOuter":0.35}},
"y":{"field":"m","type":"quantitative","scale":{"domain":[-10,10],"reverse":true,"nice":false,"zero":false},"axis":{"title":null,"values":[-10,-5,0,5,10],"format":"d","tickCount":20,"labelExpr":"replace(datum.label,'\u2212','-')"}},
"y2":{"datum":10},
"color":{"field":"c","type":"nominal","scale":{"domain":["PBS","PFFs"],"range":["white","#ff0000"]},"legend":null}}},
{"mark":{"type":"rule","color":"black","strokeWidth":1.6},"encoding":{"y":{"datum":10,"type":"quantitative"}}},
{"mark":{"type":"rule","color":"black","strokeWidth":1.6},"encoding":{"x":{"datum":"DMSO","type":"nominal","bandPosition":0,"axis":null}}},
{"data":{"name":"d"},"transform":[{"filter":"datum.p=='e'"},{"flatten":["v","k"]}],"mark":{"type":"circle","size":24,"stroke":"black","strokeWidth":0.7,"opacity":1},
"encoding":{"x":{"field":"g","type":"nominal","axis":null},"xOffset":{"field":"k","type":"nominal","scale":{"type":"point","domain":["P1","P2","P3","P4","P5","P6","q1","q2","q3","q4","F1","F2","F3","F4","F5","F6"],"padding":5}},
"y":{"field":"v","type":"quantitative"},
"fill":{"field":"c","type":"nominal","scale":{"domain":["PBS","PFFs"],"range":["black","#ff0000"]},"legend":null}}},
{"data":{"name":"b"},"transform":[{"filter":"datum.p=='e'"},{"flatten":["c"]}],"mark":{"type":"line","color":"black","strokeWidth":1.2},
"encoding":{"x":{"field":"g","type":"nominal","axis":{"orient":"top","title":"CXCL1"}},
"xOffset":{"field":"c","type":"nominal","scale":{"domain":["PBS","PFFs"],"paddingInner":0.2,"paddingOuter":0.35}},
"y":{"field":"t","type":"quantitative"},"detail":{"field":"g"}}},
{"data":{"name":"b"},"transform":[{"filter":"datum.p=='e'"},{"flatten":["c"]}],"mark":{"type":"rule","color":"black","strokeWidth":1.2},
"encoding":{"x":{"field":"g","type":"nominal","axis":null},"xOffset":{"field":"c","type":"nominal","scale":{"domain":["PBS","PFFs"],"paddingInner":0.2,"paddingOuter":0.35}},"y":{"field":"t","type":"quantitative"},"y2":{"field":"b"}}},
{"data":{"name":"b"},"transform":[{"filter":"datum.p=='e' && datum.s!='ns'"}],"mark":{"type":"text","fontSize":13,"dy":1,"baseline":"alphabetic"},
"encoding":{"x":{"field":"g","type":"nominal","axis":null},"y":{"field":"t","type":"quantitative"},"text":{"field":"s"}}},
{"data":{"name":"b"},"transform":[{"filter":"datum.p=='e' && datum.s=='ns'"}],"mark":{"type":"text","fontSize":9,"dy":-3,"baseline":"alphabetic"},
"encoding":{"x":{"field":"g","type":"nominal","axis":null},"y":{"field":"t","type":"quantitative"},"text":{"field":"s"}}}
],
"resolve":{"scale":{"xOffset":"independent"},"axis":{"x":"independent"}}},

{"width":140,"height":93,"title":"f",
"layer":[
{"data":{"name":"d"},"transform":[{"filter":"datum.p=='f'"}],"mark":{"type":"bar","stroke":"black","strokeWidth":1.4},
"encoding":{"x":{"field":"g","type":"nominal","scale":{"domain":["DMSO","GSK 872","GSK 963","NSA"],"paddingInner":0,"paddingOuter":0},"axis":{"title":null,"labelExpr":"split(datum.value,' ')[0]"}},
"xOffset":{"field":"c","type":"nominal","scale":{"domain":["PBS","PFFs"],"paddingInner":0.2,"paddingOuter":0.35}},
"y":{"field":"m","type":"quantitative","scale":{"domain":[-25,5],"reverse":true,"nice":false,"zero":false},"axis":{"title":null,"values":[-25,-20,-15,-10,-5,0,5],"format":"d","tickCount":20,"labelExpr":"replace(datum.label,'\u2212','-')"}},
"y2":{"datum":5},
"color":{"field":"c","type":"nominal","scale":{"domain":["PBS","PFFs"],"range":["white","#ff0000"]},"legend":null}}},
{"mark":{"type":"rule","color":"black","strokeWidth":1.6},"encoding":{"y":{"datum":5,"type":"quantitative"}}},
{"mark":{"type":"rule","color":"black","strokeWidth":1.6},"encoding":{"x":{"datum":"DMSO","type":"nominal","bandPosition":0,"axis":null}}},
{"data":{"name":"d"},"transform":[{"filter":"datum.p=='f'"},{"flatten":["v","k"]}],"mark":{"type":"circle","size":24,"stroke":"black","strokeWidth":0.7,"opacity":1},
"encoding":{"x":{"field":"g","type":"nominal","axis":null},"xOffset":{"field":"k","type":"nominal","scale":{"type":"point","domain":["P1","P2","P3","P4","P5","P6","q1","q2","q3","q4","F1","F2","F3","F4","F5","F6"],"padding":5}},
"y":{"field":"v","type":"quantitative"},
"fill":{"field":"c","type":"nominal","scale":{"domain":["PBS","PFFs"],"range":["black","#ff0000"]},"legend":null}}},
{"data":{"name":"b"},"transform":[{"filter":"datum.p=='f'"},{"flatten":["c"]}],"mark":{"type":"line","color":"black","strokeWidth":1.2},
"encoding":{"x":{"field":"g","type":"nominal","axis":{"orient":"top","title":"CXCL10"}},
"xOffset":{"field":"c","type":"nominal","scale":{"domain":["PBS","PFFs"],"paddingInner":0.2,"paddingOuter":0.35}},
"y":{"field":"t","type":"quantitative"},"detail":{"field":"g"}}},
{"data":{"name":"b"},"transform":[{"filter":"datum.p=='f'"},{"flatten":["c"]}],"mark":{"type":"rule","color":"black","strokeWidth":1.2},
"encoding":{"x":{"field":"g","type":"nominal","axis":null},"xOffset":{"field":"c","type":"nominal","scale":{"domain":["PBS","PFFs"],"paddingInner":0.2,"paddingOuter":0.35}},"y":{"field":"t","type":"quantitative"},"y2":{"field":"b"}}},
{"data":{"name":"b"},"transform":[{"filter":"datum.p=='f' && datum.s!='ns'"}],"mark":{"type":"text","fontSize":13,"dy":1,"baseline":"alphabetic"},
"encoding":{"x":{"field":"g","type":"nominal","axis":null},"y":{"field":"t","type":"quantitative"},"text":{"field":"s"}}},
{"data":{"name":"b"},"transform":[{"filter":"datum.p=='f' && datum.s=='ns'"}],"mark":{"type":"text","fontSize":9,"dy":-3,"baseline":"alphabetic"},
"encoding":{"x":{"field":"g","type":"nominal","axis":null},"y":{"field":"t","type":"quantitative"},"text":{"field":"s"}}}
],
"resolve":{"scale":{"xOffset":"independent"},"axis":{"x":"independent"}}},

{"width":140,"height":93,"title":"g",
"layer":[
{"data":{"name":"d"},"transform":[{"filter":"datum.p=='g'"}],"mark":{"type":"bar","stroke":"black","strokeWidth":1.4},
"encoding":{"x":{"field":"g","type":"nominal","scale":{"domain":["DMSO","GSK 872","GSK 963","NSA"],"paddingInner":0,"paddingOuter":0},"axis":{"title":null,"labelExpr":"split(datum.value,' ')[0]"}},
"xOffset":{"field":"c","type":"nominal","scale":{"domain":["PBS","PFFs"],"paddingInner":0.2,"paddingOuter":0.35}},
"y":{"field":"m","type":"quantitative","scale":{"domain":[0,100],"nice":false,"zero":false},"axis":{"title":"ng/mL","values":[0,25,50,75,100],"format":"d","tickCount":20}},
"y2":{"datum":0},
"color":{"field":"c","type":"nominal","scale":{"domain":["PBS","PFFs"],"range":["white","#ff0000"]},"legend":null}}},
{"mark":{"type":"rule","color":"black","strokeWidth":1.6},"encoding":{"y":{"datum":0,"type":"quantitative"}}},
{"mark":{"type":"rule","color":"black","strokeWidth":1.6},"encoding":{"x":{"datum":"DMSO","type":"nominal","bandPosition":0,"axis":null}}},
{"data":{"name":"d"},"transform":[{"filter":"datum.p=='g'"},{"flatten":["v","k"]}],"mark":{"type":"circle","size":24,"stroke":"black","strokeWidth":0.7,"opacity":1},
"encoding":{"x":{"field":"g","type":"nominal","axis":null},"xOffset":{"field":"k","type":"nominal","scale":{"type":"point","domain":["P1","P2","P3","P4","P5","P6","q1","q2","q3","q4","F1","F2","F3","F4","F5","F6"],"padding":5}},
"y":{"field":"v","type":"quantitative"},
"fill":{"field":"c","type":"nominal","scale":{"domain":["PBS","PFFs"],"range":["black","#ff0000"]},"legend":null}}},
{"data":{"name":"b"},"transform":[{"filter":"datum.p=='g'"},{"flatten":["c"]}],"mark":{"type":"line","color":"black","strokeWidth":1.2},
"encoding":{"x":{"field":"g","type":"nominal","axis":{"orient":"top","title":"CXCL10","titleFontStyle":"normal"}},
"xOffset":{"field":"c","type":"nominal","scale":{"domain":["PBS","PFFs"],"paddingInner":0.2,"paddingOuter":0.35}},
"y":{"field":"t","type":"quantitative"},"detail":{"field":"g"}}},
{"data":{"name":"b"},"transform":[{"filter":"datum.p=='g'"},{"flatten":["c"]}],"mark":{"type":"rule","color":"black","strokeWidth":1.2},
"encoding":{"x":{"field":"g","type":"nominal","axis":null},"xOffset":{"field":"c","type":"nominal","scale":{"domain":["PBS","PFFs"],"paddingInner":0.2,"paddingOuter":0.35}},"y":{"field":"t","type":"quantitative"},"y2":{"field":"b"}}},
{"data":{"name":"b"},"transform":[{"filter":"datum.p=='g' && datum.s!='ns'"}],"mark":{"type":"text","fontSize":13,"dy":1,"baseline":"alphabetic"},
"encoding":{"x":{"field":"g","type":"nominal","axis":null},"y":{"field":"t","type":"quantitative"},"text":{"field":"s"}}},
{"data":{"name":"b"},"transform":[{"filter":"datum.p=='g' && datum.s=='ns'"}],"mark":{"type":"text","fontSize":9,"dy":-3,"baseline":"alphabetic"},
"encoding":{"x":{"field":"g","type":"nominal","axis":null},"y":{"field":"t","type":"quantitative"},"text":{"field":"s"}}}
],
"resolve":{"scale":{"xOffset":"independent"},"axis":{"x":"independent"}}},

{"width":140,"height":93,"title":"h",
"layer":[
{"data":{"name":"d"},"transform":[{"filter":"datum.p=='h'"}],"mark":{"type":"bar","stroke":"black","strokeWidth":1.4},
"encoding":{"x":{"field":"g","type":"nominal","scale":{"domain":["DMSO","GSK 872","GSK 963","NSA"],"paddingInner":0,"paddingOuter":0},"axis":{"title":null,"labelExpr":"split(datum.value,' ')"}},
"xOffset":{"field":"c","type":"nominal","scale":{"domain":["PBS","PFFs"],"paddingInner":0.2,"paddingOuter":0.35}},
"y":{"field":"m","type":"quantitative","scale":{"domain":[-4,2],"reverse":true,"nice":false,"zero":false},"axis":{"title":"DDCT","values":[-4,-3,-2,-1,0,1,2],"format":"d","tickCount":20,"labelExpr":"replace(datum.label,'\u2212','-')"}},
"y2":{"datum":2},
"color":{"field":"c","type":"nominal","scale":{"domain":["PBS","PFFs"],"range":["white","#ff0000"]},"legend":null}}},
{"mark":{"type":"rule","color":"black","strokeWidth":1.6},"encoding":{"y":{"datum":2,"type":"quantitative"}}},
{"mark":{"type":"rule","color":"black","strokeWidth":1.6},"encoding":{"x":{"datum":"DMSO","type":"nominal","bandPosition":0,"axis":null}}},
{"data":{"name":"d"},"transform":[{"filter":"datum.p=='h'"},{"flatten":["v","k"]}],"mark":{"type":"circle","size":24,"stroke":"black","strokeWidth":0.7,"opacity":1},
"encoding":{"x":{"field":"g","type":"nominal","axis":null},"xOffset":{"field":"k","type":"nominal","scale":{"type":"point","domain":["P1","P2","P3","P4","P5","P6","q1","q2","q3","q4","F1","F2","F3","F4","F5","F6"],"padding":5}},
"y":{"field":"v","type":"quantitative"},
"fill":{"field":"c","type":"nominal","scale":{"domain":["PBS","PFFs"],"range":["black","#ff0000"]},"legend":null}}},
{"data":{"name":"b"},"transform":[{"filter":"datum.p=='h'"},{"flatten":["c"]}],"mark":{"type":"line","color":"black","strokeWidth":1.2},
"encoding":{"x":{"field":"g","type":"nominal","axis":{"orient":"top","title":"IKBKE"}},
"xOffset":{"field":"c","type":"nominal","scale":{"domain":["PBS","PFFs"],"paddingInner":0.2,"paddingOuter":0.35}},
"y":{"field":"t","type":"quantitative"},"detail":{"field":"g"}}},
{"data":{"name":"b"},"transform":[{"filter":"datum.p=='h'"},{"flatten":["c"]}],"mark":{"type":"rule","color":"black","strokeWidth":1.2},
"encoding":{"x":{"field":"g","type":"nominal","axis":null},"xOffset":{"field":"c","type":"nominal","scale":{"domain":["PBS","PFFs"],"paddingInner":0.2,"paddingOuter":0.35}},"y":{"field":"t","type":"quantitative"},"y2":{"field":"b"}}},
{"data":{"name":"b"},"transform":[{"filter":"datum.p=='h' && datum.s!='ns'"}],"mark":{"type":"text","fontSize":13,"dy":1,"baseline":"alphabetic"},
"encoding":{"x":{"field":"g","type":"nominal","axis":null},"y":{"field":"t","type":"quantitative"},"text":{"field":"s"}}},
{"data":{"name":"b"},"transform":[{"filter":"datum.p=='h' && datum.s=='ns'"}],"mark":{"type":"text","fontSize":9,"dy":-3,"baseline":"alphabetic"},
"encoding":{"x":{"field":"g","type":"nominal","axis":null},"y":{"field":"t","type":"quantitative"},"text":{"field":"s"}}}
],
"resolve":{"scale":{"xOffset":"independent"},"axis":{"x":"independent"}}},

{"width":140,"height":93,"title":"i",
"layer":[
{"data":{"name":"d"},"transform":[{"filter":"datum.p=='i'"}],"mark":{"type":"bar","stroke":"black","strokeWidth":1.4},
"encoding":{"x":{"field":"g","type":"nominal","scale":{"domain":["DMSO","GSK 872","GSK 963","NSA"],"paddingInner":0,"paddingOuter":0},"axis":{"title":null,"labelExpr":"split(datum.value,' ')"}},
"xOffset":{"field":"c","type":"nominal","scale":{"domain":["PBS","PFFs"],"paddingInner":0.2,"paddingOuter":0.35}},
"y":{"field":"m","type":"quantitative","scale":{"domain":[-2,2],"reverse":true,"nice":false,"zero":false},"axis":{"title":null,"values":[-2,-1,0,1,2],"format":"d","tickCount":20,"labelExpr":"replace(datum.label,'\u2212','-')"}},
"y2":{"datum":2},
"color":{"field":"c","type":"nominal","scale":{"domain":["PBS","PFFs"],"range":["white","#ff0000"]},"legend":null}}},
{"mark":{"type":"rule","color":"black","strokeWidth":1.6},"encoding":{"y":{"datum":2,"type":"quantitative"}}},
{"mark":{"type":"rule","color":"black","strokeWidth":1.6},"encoding":{"x":{"datum":"DMSO","type":"nominal","bandPosition":0,"axis":null}}},
{"data":{"name":"d"},"transform":[{"filter":"datum.p=='i'"},{"flatten":["v","k"]}],"mark":{"type":"circle","size":24,"stroke":"black","strokeWidth":0.7,"opacity":1},
"encoding":{"x":{"field":"g","type":"nominal","axis":null},"xOffset":{"field":"k","type":"nominal","scale":{"type":"point","domain":["P1","P2","P3","P4","P5","P6","q1","q2","q3","q4","F1","F2","F3","F4","F5","F6"],"padding":5}},
"y":{"field":"v","type":"quantitative"},
"fill":{"field":"c","type":"nominal","scale":{"domain":["PBS","PFFs"],"range":["black","#ff0000"]},"legend":null}}},
{"data":{"name":"b"},"transform":[{"filter":"datum.p=='i'"},{"flatten":["c"]}],"mark":{"type":"line","color":"black","strokeWidth":1.2},
"encoding":{"x":{"field":"g","type":"nominal","axis":{"orient":"top","title":"NFKB1"}},
"xOffset":{"field":"c","type":"nominal","scale":{"domain":["PBS","PFFs"],"paddingInner":0.2,"paddingOuter":0.35}},
"y":{"field":"t","type":"quantitative"},"detail":{"field":"g"}}},
{"data":{"name":"b"},"transform":[{"filter":"datum.p=='i'"},{"flatten":["c"]}],"mark":{"type":"rule","color":"black","strokeWidth":1.2},
"encoding":{"x":{"field":"g","type":"nominal","axis":null},"xOffset":{"field":"c","type":"nominal","scale":{"domain":["PBS","PFFs"],"paddingInner":0.2,"paddingOuter":0.35}},"y":{"field":"t","type":"quantitative"},"y2":{"field":"b"}}},
{"data":{"name":"b"},"transform":[{"filter":"datum.p=='i' && datum.s!='ns'"}],"mark":{"type":"text","fontSize":13,"dy":1,"baseline":"alphabetic"},
"encoding":{"x":{"field":"g","type":"nominal","axis":null},"y":{"field":"t","type":"quantitative"},"text":{"field":"s"}}},
{"data":{"name":"b"},"transform":[{"filter":"datum.p=='i' && datum.s=='ns'"}],"mark":{"type":"text","fontSize":9,"dy":-3,"baseline":"alphabetic"},
"encoding":{"x":{"field":"g","type":"nominal","axis":null},"y":{"field":"t","type":"quantitative"},"text":{"field":"s"}}}
],
"resolve":{"scale":{"xOffset":"independent"},"axis":{"x":"independent"}}},

{"width":140,"height":93,"title":"j",
"layer":[
{"data":{"name":"d"},"transform":[{"filter":"datum.p=='j'"}],"mark":{"type":"bar","stroke":"black","strokeWidth":1.4},
"encoding":{"x":{"field":"g","type":"nominal","scale":{"domain":["DMSO","GSK 872","GSK 963","NSA"],"paddingInner":0,"paddingOuter":0},"axis":{"title":null,"labelExpr":"split(datum.value,' ')"}},
"xOffset":{"field":"c","type":"nominal","scale":{"domain":["PBS","PFFs"],"paddingInner":0.2,"paddingOuter":0.35}},
"y":{"field":"m","type":"quantitative","scale":{"domain":[-3,1],"reverse":true,"nice":false,"zero":false},"axis":{"title":null,"values":[-3,-2,-1,0,1],"format":"d","tickCount":20,"labelExpr":"replace(datum.label,'\u2212','-')"}},
"y2":{"datum":1},
"color":{"field":"c","type":"nominal","scale":{"domain":["PBS","PFFs"],"range":["white","#ff0000"]},"legend":null}}},
{"mark":{"type":"rule","color":"black","strokeWidth":1.6},"encoding":{"y":{"datum":1,"type":"quantitative"}}},
{"mark":{"type":"rule","color":"black","strokeWidth":1.6},"encoding":{"x":{"datum":"DMSO","type":"nominal","bandPosition":0,"axis":null}}},
{"data":{"name":"d"},"transform":[{"filter":"datum.p=='j'"},{"flatten":["v","k"]}],"mark":{"type":"circle","size":24,"stroke":"black","strokeWidth":0.7,"opacity":1},
"encoding":{"x":{"field":"g","type":"nominal","axis":null},"xOffset":{"field":"k","type":"nominal","scale":{"type":"point","domain":["P1","P2","P3","P4","P5","P6","q1","q2","q3","q4","F1","F2","F3","F4","F5","F6"],"padding":5}},
"y":{"field":"v","type":"quantitative"},
"fill":{"field":"c","type":"nominal","scale":{"domain":["PBS","PFFs"],"range":["black","#ff0000"]},"legend":null}}},
{"data":{"name":"b"},"transform":[{"filter":"datum.p=='j'"},{"flatten":["c"]}],"mark":{"type":"line","color":"black","strokeWidth":1.2},
"encoding":{"x":{"field":"g","type":"nominal","axis":{"orient":"top","title":"NFKB2"}},
"xOffset":{"field":"c","type":"nominal","scale":{"domain":["PBS","PFFs"],"paddingInner":0.2,"paddingOuter":0.35}},
"y":{"field":"t","type":"quantitative"},"detail":{"field":"g"}}},
{"data":{"name":"b"},"transform":[{"filter":"datum.p=='j'"},{"flatten":["c"]}],"mark":{"type":"rule","color":"black","strokeWidth":1.2},
"encoding":{"x":{"field":"g","type":"nominal","axis":null},"xOffset":{"field":"c","type":"nominal","scale":{"domain":["PBS","PFFs"],"paddingInner":0.2,"paddingOuter":0.35}},"y":{"field":"t","type":"quantitative"},"y2":{"field":"b"}}},
{"data":{"name":"b"},"transform":[{"filter":"datum.p=='j' && datum.s!='ns'"}],"mark":{"type":"text","fontSize":13,"dy":1,"baseline":"alphabetic"},
"encoding":{"x":{"field":"g","type":"nominal","axis":null},"y":{"field":"t","type":"quantitative"},"text":{"field":"s"}}},
{"data":{"name":"b"},"transform":[{"filter":"datum.p=='j' && datum.s=='ns'"}],"mark":{"type":"text","fontSize":9,"dy":-3,"baseline":"alphabetic"},
"encoding":{"x":{"field":"g","type":"nominal","axis":null},"y":{"field":"t","type":"quantitative"},"text":{"field":"s"}}}
],
"resolve":{"scale":{"xOffset":"independent"},"axis":{"x":"independent"}}},

{"width":140,"height":93,"title":"k",
"layer":[
{"data":{"name":"d"},"transform":[{"filter":"datum.p=='k'"}],"mark":{"type":"bar","stroke":"black","strokeWidth":1.4},
"encoding":{"x":{"field":"g","type":"nominal","scale":{"domain":["DMSO","GSK 872","GSK 963","NSA"],"paddingInner":0,"paddingOuter":0},"axis":{"title":null,"labelExpr":"split(datum.value,' ')"}},
"xOffset":{"field":"c","type":"nominal","scale":{"domain":["PBS","PFFs"],"paddingInner":0.2,"paddingOuter":0.35}},
"y":{"field":"m","type":"quantitative","scale":{"domain":[-1.5,1],"reverse":true,"nice":false,"zero":false},"axis":{"title":null,"values":[-1.5,-1,-0.5,0,0.5,1],"format":".1f","tickCount":20,"labelExpr":"replace(datum.label,'\u2212','-')"}},
"y2":{"datum":1},
"color":{"field":"c","type":"nominal","scale":{"domain":["PBS","PFFs"],"range":["white","#ff0000"]},"legend":null}}},
{"mark":{"type":"rule","color":"black","strokeWidth":1.6},"encoding":{"y":{"datum":1,"type":"quantitative"}}},
{"mark":{"type":"rule","color":"black","strokeWidth":1.6},"encoding":{"x":{"datum":"DMSO","type":"nominal","bandPosition":0,"axis":null}}},
{"data":{"name":"d"},"transform":[{"filter":"datum.p=='k'"},{"flatten":["v","k"]}],"mark":{"type":"circle","size":24,"stroke":"black","strokeWidth":0.7,"opacity":1},
"encoding":{"x":{"field":"g","type":"nominal","axis":null},"xOffset":{"field":"k","type":"nominal","scale":{"type":"point","domain":["P1","P2","P3","P4","P5","P6","q1","q2","q3","q4","F1","F2","F3","F4","F5","F6"],"padding":5}},
"y":{"field":"v","type":"quantitative"},
"fill":{"field":"c","type":"nominal","scale":{"domain":["PBS","PFFs"],"range":["black","#ff0000"]},"legend":null}}},
{"data":{"name":"b"},"transform":[{"filter":"datum.p=='k'"},{"flatten":["c"]}],"mark":{"type":"line","color":"black","strokeWidth":1.2},
"encoding":{"x":{"field":"g","type":"nominal","axis":{"orient":"top","title":"TRAF2"}},
"xOffset":{"field":"c","type":"nominal","scale":{"domain":["PBS","PFFs"],"paddingInner":0.2,"paddingOuter":0.35}},
"y":{"field":"t","type":"quantitative"},"detail":{"field":"g"}}},
{"data":{"name":"b"},"transform":[{"filter":"datum.p=='k'"},{"flatten":["c"]}],"mark":{"type":"rule","color":"black","strokeWidth":1.2},
"encoding":{"x":{"field":"g","type":"nominal","axis":null},"xOffset":{"field":"c","type":"nominal","scale":{"domain":["PBS","PFFs"],"paddingInner":0.2,"paddingOuter":0.35}},"y":{"field":"t","type":"quantitative"},"y2":{"field":"b"}}},
{"data":{"name":"b"},"transform":[{"filter":"datum.p=='k' && datum.s!='ns'"}],"mark":{"type":"text","fontSize":13,"dy":1,"baseline":"alphabetic"},
"encoding":{"x":{"field":"g","type":"nominal","axis":null},"y":{"field":"t","type":"quantitative"},"text":{"field":"s"}}},
{"data":{"name":"b"},"transform":[{"filter":"datum.p=='k' && datum.s=='ns'"}],"mark":{"type":"text","fontSize":9,"dy":-3,"baseline":"alphabetic"},
"encoding":{"x":{"field":"g","type":"nominal","axis":null},"y":{"field":"t","type":"quantitative"},"text":{"field":"s"}}}
],
"resolve":{"scale":{"xOffset":"independent"},"axis":{"x":"independent"}}}
],
"config":{
"font":"Liberation Sans",
"view":{"stroke":null},
"axis":{"domain":true,"domainColor":"black","domainWidth":1.4,"tickColor":"black","tickWidth":1.4,"tickSize":4,"labelColor":"black","labelFontSize":11.5,"titleColor":"black","titleFontWeight":"normal","titleFontSize":12.5,"grid":false,"labelFont":"Liberation Sans","titleFont":"Liberation Sans","labelOverlap":false},
"axisBottom":{"ticks":false,"labelPadding":2,"labelLineHeight":12,"labelAngle":0},
"axisLeft":{"labelPadding":1,"titlePadding":0},
"axisTop":{"labels":false,"ticks":false,"domain":false,"titleFontStyle":"italic","titleFontSize":10,"titlePadding":19,"minExtent":0,"maxExtent":0},
"title":{"anchor":"start","frame":"bounds","fontSize":26,"fontWeight":"normal","offset":-13,"dx":0,"color":"black","font":"Liberation Sans"},
"text":{"font":"Liberation Sans","color":"black"}
}
}
